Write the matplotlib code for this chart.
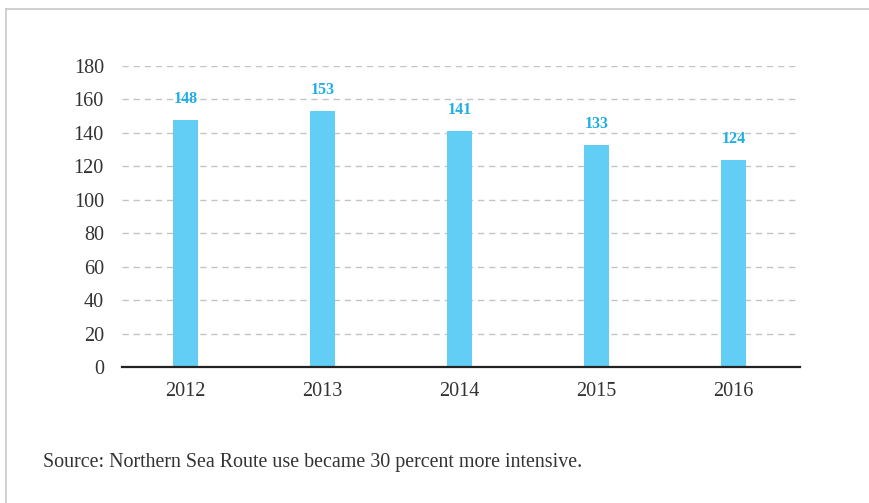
import matplotlib
matplotlib.use("Agg")
import matplotlib.pyplot as plt
from matplotlib.lines import Line2D

# data
years = ["2012", "2013", "2014", "2015", "2016"]
voyages = [148, 153, 141, 133, 124]
yticks = [0, 20, 40, 60, 80, 100, 120, 140, 160, 180]

BAR_COLOR = "#62cdf5"
LABEL_COLOR = "#1eaee6"
TEXT_COLOR = "#333333"

plt.rcParams['font.family'] = ['Liberation Serif', 'DejaVu Serif']

W, H = 870, 503
fig = plt.figure(figsize=(W / 100, H / 100), dpi=100)
fig.patch.set_facecolor("white")

# plot area in pixels: x 122..800, y 66 (180) .. 367 (0)
ax = fig.add_axes([122 / W, 1 - 367 / H, (800 - 122) / W, (367 - 66) / H])

xs = range(len(years))
ax.bar(xs, voyages, width=0.185, color=BAR_COLOR, zorder=3)
for x, v in zip(xs, voyages):
    ax.annotate(str(v), (x, v), xytext=(0, 15), textcoords="offset points",
                ha="center", va="center", color=LABEL_COLOR, fontsize=11.5,
                fontweight="bold")

ax.set_xlim(-0.4635, 4.485)
ax.set_ylim(0, 180)
ax.set_yticks(yticks)
ax.set_xticks(list(xs))
ax.set_xticklabels(years)
ax.yaxis.grid(True, linestyle=(0, (4.5, 3.5)), color="#c4c4c4", linewidth=1.0, zorder=0)
ax.tick_params(axis="both", length=0, labelsize=14.5, colors=TEXT_COLOR)
ax.tick_params(axis="y", pad=13)
ax.tick_params(axis="x", pad=11)
for s in ["top", "right", "left"]:
    ax.spines[s].set_visible(False)
ax.spines["bottom"].set_color("#222222")
ax.spines["bottom"].set_linewidth(1.6)
ax.spines["bottom"].set_zorder(4)

# frame lines (top and left)
fig.add_artist(Line2D([6 / W, 6 / W], [0, 1 - 9 / H], color="#c8c8c8", linewidth=1.2))
fig.add_artist(Line2D([6 / W, 1], [1 - 9 / H, 1 - 9 / H], color="#c8c8c8", linewidth=1.2))

fig.text(43 / W, 1 - 462 / H, "Source: Northern Sea Route use became 30 percent more intensive.",
         ha="left", va="center", fontsize=14.4, color=TEXT_COLOR)

fig.savefig("out.png", dpi=100, facecolor="white")
